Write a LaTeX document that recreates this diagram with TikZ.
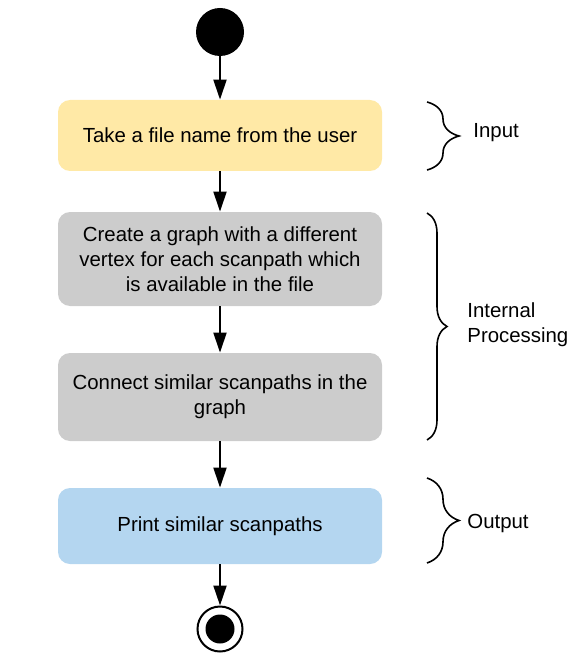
\documentclass[tikz,border=0pt]{standalone}
\usepackage{fontspec}
\setmainfont{Liberation Sans}
\usepackage{xcolor}
\usetikzlibrary{arrows.meta,decorations.pathreplacing}

\definecolor{inputcol}{HTML}{FFE9A6}
\definecolor{proccol}{HTML}{CCCCCC}
\definecolor{outputcol}{HTML}{B4D6F0}

\tikzset{
	activity/.style={rounded corners=6pt, minimum width=162pt, inner sep=0pt, align=center,
		font=\fontsize{10.2}{12.5}\selectfont},
	flow/.style={line width=1pt, -{Triangle[length=10pt,width=6.5pt]}},
	phase/.style={decorate, decoration={brace, amplitude=#1}, line width=0.8pt},
	phase/.default=16pt,
	phaselabel/.style={anchor=west, align=left, inner sep=0pt, font=\fontsize{10.2}{12.5}\selectfont}
}

\begin{document}
\begin{tikzpicture}[x=0.5pt,y=-0.5pt]
		\useasboundingbox (0,0) rectangle (574,668);
		
		\node[circle, fill=black, minimum size=24pt, inner sep=0pt] (start) at (220,32) {};
		\node[activity, fill=inputcol, minimum height=35.5pt] (file) at (220,135.5)
			{Take a file name from the user};
		\node[activity, fill=proccol, minimum height=47pt] (graph) at (220,259)
			{Create a graph with a different\\vertex for each scanpath which\\is available in the file};
		\node[activity, fill=proccol, minimum height=44pt] (connect) at (220,397)
			{Connect similar scanpaths in the\\graph};
		\node[activity, fill=outputcol, minimum height=38pt] (print) at (220,526)
			{Print similar scanpaths};
		\node[circle, draw, fill=white, line width=1pt, minimum size=22.5pt, inner sep=0pt] (stop) at (220,629) {};
		\node[circle, fill=black, minimum size=14.5pt, inner sep=0pt] (stopdot) at (stop) {};
		
		\draw[flow] (start) -- (file);
		\draw[flow] (file) -- (graph);
		\draw[flow] (graph) -- (connect);
		\draw[flow] (connect) -- (print);
		\draw[flow] (print) -- (stop);
		
		% phases on the right
		\draw[phase] (427,102) -- (427,170);
		\draw[phase=10pt] (427,213) -- (427,440);
		\draw[phase] (427,478) -- (427,563);
		
		\node[phaselabel] (input) at (473,133) {Input};
		\node[phaselabel] (internal) at (467,325) {Internal\\Processing};
		\node[phaselabel] (output) at (467,523) {Output};
		
	\end{tikzpicture}
\end{document}
